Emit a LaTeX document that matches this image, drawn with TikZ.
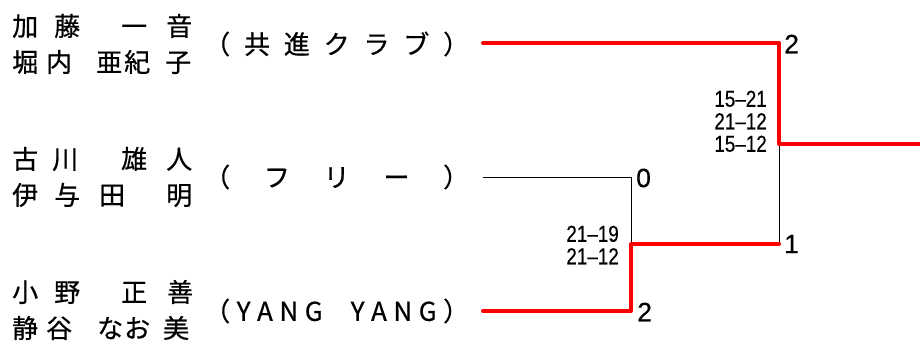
\documentclass[tikz,border=0pt]{standalone}
\usepackage{fontspec}
\setmainfont{Noto Sans CJK JP}[FakeBold=0.6]
\newfontfamily\scorefont[FakeStretch=0.82,FakeBold=0.4]{Liberation Sans}
\newfontfamily\gamefont[FakeBold=0.4]{Liberation Sans}
\usepackage{tikz}

\begin{document}
\begin{tikzpicture}[x=1pt,y=-1pt,
    player/.style={anchor=west, inner sep=0pt, align=left, font=\fontsize{26}{36}\selectfont},
    club/.style={anchor=west, inner sep=0pt, font=\fontsize{26}{30}\selectfont},
    games/.style={anchor=west, inner sep=0pt, font=\gamefont\fontsize{26.5}{30}\selectfont},
    scores/.style={anchor=east, inner sep=0pt, text height=16.5pt, text depth=0pt, font=\scorefont\fontsize{23}{23}\selectfont},
    win/.style={red, line width=4pt, line cap=round, line join=round},
    lose/.style={black, line width=0.8pt}]
    \useasboundingbox (0,0) rectangle (920,345);
    \def \nx {12}   % left edge of the names
    \def \tx {204}  % left edge of the clubs
    \def \tw {265}  % width of the clubs

    % pairs
    \node[player] (p1) at (\nx,44) {加\hspace{16pt}藤\hspace{41pt}一\hspace{19pt}音\\堀\hspace{8pt}内\hspace{24pt}亜\hspace{2pt}紀\hspace{15pt}子};
    \node[player] (p2) at (\nx,177) {古\hspace{14pt}川\hspace{43pt}雄\hspace{19pt}人\\伊\hspace{16pt}与\hspace{19pt}田\hspace{41pt}明};
    \node[player] (p3) at (\nx,310) {小\hspace{16pt}野\hspace{41pt}正\hspace{20pt}善\\静\hspace{8pt}谷\hspace{25pt}な\hspace{1pt}お\hspace{13pt}美};

    \node[club] (t1) at (\tx,44) {\makebox[\tw pt][s]{（\hfill 共\hfill 進\hfill ク\hfill ラ\hfill ブ\hfill ）}};
    \node[club] (t2) at (\tx,177) {\makebox[\tw pt][s]{（\hfill フ\hfill リ\hfill ー\hfill ）}};
    \node[club] (t3) at (\tx,311) {\makebox[\tw pt][s]{（\hfill Y\hfill A\hfill N\hfill G\hfill\hspace{15pt}\hfill Y\hfill A\hfill N\hfill G\hfill ）}};

    % bracket
    \coordinate (a1) at (483,43);
    \coordinate (a2) at (483,177);
    \coordinate (a3) at (483,311);
    \coordinate (b2) at (631,177);
    \coordinate (b3) at (631,311);
    \coordinate (j1) at (631,244);
    \coordinate (b1) at (779,43);
    \coordinate (c1) at (779,144);
    \coordinate (c2) at (779,244);
    \coordinate (fin) at (925,144);
    \draw[lose] (a2) -- (b2) -- (j1);
    \draw[lose] (c1) -- (c2);
    \draw[win] (a3) -- (b3) -- (j1) -- (c2);
    \draw[win] (a1) -- (b1) -- (c1) -- (fin);

    % results
    \foreach \n/\x/\y/\g in {1/784/44/2, 2/636/178/0, 3/784/244/1, 4/637/312/2}
      \node[games] (g\n) at (\x,\y) {\g};
    \foreach \s [count=\i] in {15–21,21–12,15–12}
      \node[scores] (s1\i) at (767,{76+22.5*\i}) {\s};
    \foreach \s [count=\i] in {21–19,21–12}
      \node[scores] (s2\i) at (619,{211+22.5*\i}) {\s};
\end{tikzpicture}
\end{document}
